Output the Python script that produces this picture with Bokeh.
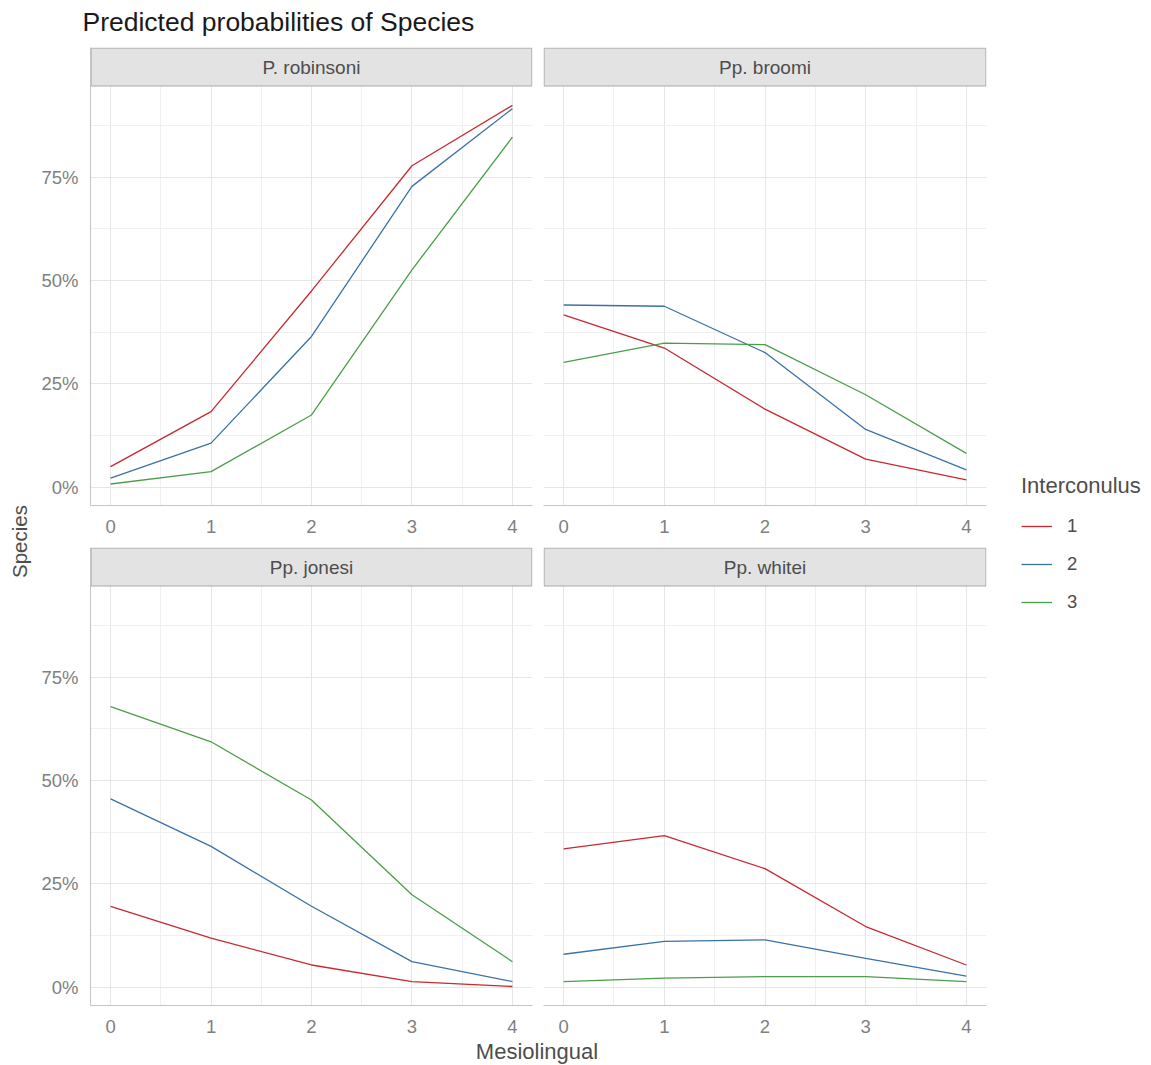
from math import pi

from bokeh.core.properties import value
from bokeh.embed import file_html
from bokeh.layouts import column, row
from bokeh.models import FixedTicker, Legend, LegendItem, NumeralTickFormatter, Range1d
from bokeh.plotting import figure
from bokeh.resources import INLINE

# ---------------------------------------------------------------- data
mesiolingual = [0, 1, 2, 3, 4]
interconulus = ["1", "2", "3"]
species = ["P. robinsoni", "Pp. broomi", "Pp. jonesi", "Pp. whitei"]

# predicted probability of each species, one list per Interconulus level
robinsoni_1 = [0.050, 0.183, 0.475, 0.778, 0.924]
robinsoni_2 = [0.022, 0.107, 0.365, 0.728, 0.916]
robinsoni_3 = [0.008, 0.038, 0.175, 0.526, 0.847]

broomi_1 = [0.417, 0.337, 0.189, 0.068, 0.018]
broomi_2 = [0.441, 0.438, 0.326, 0.140, 0.042]
broomi_3 = [0.302, 0.349, 0.345, 0.224, 0.082]

jonesi_1 = [0.196, 0.119, 0.054, 0.014, 0.002]
jonesi_2 = [0.456, 0.341, 0.196, 0.062, 0.014]
jonesi_3 = [0.679, 0.594, 0.453, 0.224, 0.062]

whitei_1 = [0.335, 0.367, 0.287, 0.147, 0.054]
whitei_2 = [0.080, 0.111, 0.115, 0.070, 0.027]
whitei_3 = [0.014, 0.022, 0.026, 0.026, 0.014]

y_ticks = [0, 0.25, 0.5, 0.75]
y_minor = [0.125, 0.375, 0.625, 0.875]
x_minor = [0.5, 1.5, 2.5, 3.5]

curves = {
    "P. robinsoni": [robinsoni_1, robinsoni_2, robinsoni_3],
    "Pp. broomi": [broomi_1, broomi_2, broomi_3],
    "Pp. jonesi": [jonesi_1, jonesi_2, jonesi_3],
    "Pp. whitei": [whitei_1, whitei_2, whitei_3],
}

# ---------------------------------------------------------------- style
FONT = "Liberation Sans"
COLORS = ["#c8292e", "#3a72a6", "#4b9e49"]
GRID = "#e6e6e6"
GRID_MINOR = "#f0f0f0"
TICK_TEXT = "#808080"
LABEL_TEXT = "#4d4d4d"

FRAME_H = 458                 # strip + panel, in pixels
Y_LO, Y_HI = -0.044, 1.064    # panel scale, the strip sits above the data
PX = FRAME_H / (Y_HI - Y_LO)  # pixels per unit on y
STRIP_LO = Y_HI - 38.5 / PX
STRIP_HI = Y_HI - 0.6 / PX
X_LO, X_HI = -0.2, 4.2

HEADER_H = 47
TOP_ROW_H = 500
BOTTOM_ROW_H = 493
BODY_H = TOP_ROW_H + BOTTOM_ROW_H


def panel(name, col, rw):
    left = col == 0
    top = rw == 0
    p = figure(
        width=500 if left else 453,
        height=TOP_ROW_H if top else BOTTOM_ROW_H,
        x_range=Range1d(X_LO, X_HI),
        y_range=Range1d(Y_LO, Y_HI),
        min_border_left=51 if left else 5,
        min_border_right=6 if left else 5,
        min_border_top=0,
        min_border_bottom=42 if top else 35,
        title_location=None,
        output_backend="svg",
        toolbar_location=None,
    )
    p.outline_line_color = None
    p.background_fill_color = "white"
    p.border_fill_color = "white"

    xt = FixedTicker(ticks=mesiolingual, minor_ticks=x_minor)
    yt = FixedTicker(ticks=y_ticks, minor_ticks=y_minor)
    p.xaxis.ticker = xt
    p.yaxis.ticker = yt
    p.xgrid.ticker = xt
    p.ygrid.ticker = yt
    for g in (p.xgrid, p.ygrid):
        g.grid_line_color = GRID
        g.grid_line_width = 1
        g.minor_grid_line_color = GRID_MINOR
        g.minor_grid_line_width = 1

    for ax in (p.xaxis, p.yaxis):
        ax.major_tick_line_color = None
        ax.minor_tick_line_color = None
        ax.major_tick_out = 0
        ax.minor_tick_out = 0
        ax.major_tick_in = 0
        ax.minor_tick_in = 0
        ax.axis_line_color = "#c4c4c4"
        ax.major_label_text_font = FONT
        ax.major_label_text_font_size = "18.5px"
        ax.major_label_text_color = TICK_TEXT
    p.xaxis.major_label_standoff = 14
    p.yaxis.major_label_standoff = 12
    p.yaxis.formatter = NumeralTickFormatter(format="0%")
    if not left:
        p.yaxis.visible = False

    for vals, c in zip(curves[name], COLORS):
        p.line(mesiolingual, vals, line_color=c, line_width=1.3)

    # facet strip
    inset = 0.6 / (443 / (X_HI - X_LO))
    p.quad(left=X_LO + inset, right=X_HI - inset, bottom=STRIP_LO, top=STRIP_HI,
           fill_color="#e3e3e3", line_color="#a9a9a9", line_width=1)
    p.text(x=[2], y=[(STRIP_LO + STRIP_HI) / 2], text=[name],
           text_align="center", text_baseline="middle",
           text_font=value(FONT), text_font_size="19px", text_color=LABEL_TEXT)
    return p


def blank(width, height):
    f = figure(width=width, height=height, x_range=Range1d(0, width), y_range=Range1d(0, height),
               min_border=0, title_location=None,
               output_backend="svg", toolbar_location=None)
    f.axis.visible = False
    f.grid.visible = False
    f.outline_line_color = None
    f.background_fill_color = "white"
    f.border_fill_color = "white"
    return f


tl = panel(species[0], 0, 0)
tr = panel(species[1], 1, 0)
bl = panel(species[2], 0, 1)
br = panel(species[3], 1, 1)

# plot title
header = blank(1151, HEADER_H)
header.text(x=[82], y=[HEADER_H - 21], text=["Predicted probabilities of Species"],
            text_align="left", text_baseline="alphabetic",
            text_font=value(FONT), text_font_size="26.5px", text_color="#1a1a1a")

# y axis title, shared by both rows
ylab = blank(38, BODY_H)
ylab.text(x=[18.5], y=[BODY_H - (541 - HEADER_H)], text=["Species"], angle=pi / 2,
          text_align="center", text_baseline="middle",
          text_font=value(FONT), text_font_size="20.5px", text_color=LABEL_TEXT)

# legend column; key renderers carry no visible points
leg = blank(160, BODY_H)
keys = [leg.line(x=[0], y=[float("nan")], line_color=c, line_width=1.3) for c in COLORS]
legend = Legend(
    items=[LegendItem(label=lab, renderers=[r]) for lab, r in zip(interconulus, keys)],
    title="Interconulus",
    location=(30, 427),
    title_text_font=FONT,
    title_text_font_size="22px",
    title_text_font_style="normal",
    title_text_color=LABEL_TEXT,
    title_standoff=16,
    label_text_font=FONT,
    label_text_font_size="18.5px",
    label_text_color=LABEL_TEXT,
    glyph_width=31,
    glyph_height=22,
    label_height=22,
    label_standoff=15,
    spacing=16,
    padding=0,
    margin=0,
    border_line_color=None,
    background_fill_alpha=0,
)
leg.add_layout(legend)

# x axis title, shared by both columns
xlab = blank(1151, 25)
xlab.text(x=[536.5], y=[25 - 10.5], text=["Mesiolingual"],
          text_align="center", text_baseline="middle",
          text_font=value(FONT), text_font_size="22px", text_color=LABEL_TEXT)

grid = column(row(tl, tr), row(bl, br))
page = column(header, row(ylab, grid, leg), xlab)

open("out.html", "w").write(file_html(page, INLINE))
